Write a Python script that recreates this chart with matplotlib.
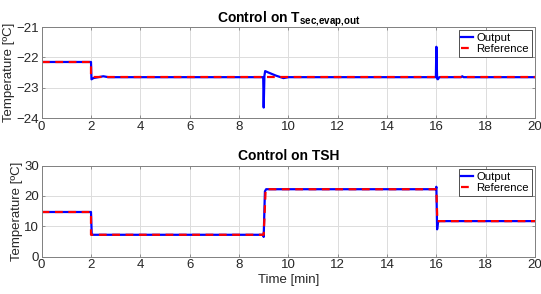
import numpy as np
import matplotlib
matplotlib.use('Agg')
import matplotlib.pyplot as plt

plt.rcParams['font.family'] = ['Liberation Sans', 'DejaVu Sans']
plt.rcParams['mathtext.fontset'] = 'custom'
plt.rcParams['mathtext.rm'] = 'Liberation Sans'
plt.rcParams['mathtext.bf'] = 'Liberation Sans:bold'

# ── Top panel: control on T_sec,evap,out ─────────────────────────────────────
t_out_top = [0, 2.0, 2.02, 2.1, 2.5, 2.7, 8.98, 9.0, 9.03, 9.06, 9.2, 9.5,
             9.8, 10.0, 15.98, 16.0, 16.03, 16.06, 16.12, 17.0, 17.05, 17.1, 20]
y_out_top = [-22.15, -22.15, -22.72, -22.68, -22.62, -22.65, -22.65, -23.65,
             -22.6, -22.45, -22.5, -22.6, -22.68, -22.65, -22.65, -21.65,
             -22.7, -22.72, -22.65, -22.65, -22.62, -22.65, -22.65]
t_ref_top = [0, 2.0, 2.0, 20]
y_ref_top = [-22.15, -22.15, -22.65, -22.65]

# ── Bottom panel: control on TSH ─────────────────────────────────────────────
t_out_bot = [0, 2.0, 2.03, 8.98, 9.0, 9.05, 9.1, 15.98, 16.0, 16.03, 16.06,
             16.1, 20]
y_out_bot = [14.7, 14.7, 7.2, 7.2, 6.5, 21.5, 22.2, 22.2, 23.0, 9.0, 11.2,
             11.7, 11.7]
t_ref_bot = [0, 2.0, 2.0, 9.0, 9.08, 16.0, 16.04, 20]
y_ref_bot = [14.7, 14.7, 7.2, 7.2, 22.2, 22.2, 11.7, 11.7]

AX_COL = '#808080'
TXT_COL = '#262626'


def style_axes(ax, ylim, yticks):
    ax.set_xlim(0, 20)
    ax.set_ylim(*ylim)
    ax.set_xticks(np.arange(0, 21, 2))
    ax.set_yticks(yticks)
    ax.grid(True, color='#dcdcdc', linewidth=0.7)
    ax.set_axisbelow(True)
    for s in ax.spines.values():
        s.set_color(AX_COL)
        s.set_linewidth(0.7)
    ax.tick_params(labelsize=9.5, colors=TXT_COL, length=2, width=0.6,
                   direction='in', pad=2)
    ax.tick_params(top=True, right=True, color=AX_COL)
    ax.set_ylabel('Temperature [ºC]', fontsize=9.5, color=TXT_COL, labelpad=1)


def add_legend(ax):
    leg = ax.legend(loc='upper right', fontsize=8.2, handlelength=1.0,
                    handletextpad=0.3, borderpad=0.25, labelspacing=0.1,
                    fancybox=False, framealpha=1, borderaxespad=0.3)
    leg.get_frame().set_edgecolor('#333333')
    leg.get_frame().set_linewidth(0.6)


fig = plt.figure(figsize=(5.41, 2.94), dpi=100)
ax1 = fig.add_axes([0.077, 0.598, 0.912, 0.310])
ax2 = fig.add_axes([0.077, 0.127, 0.912, 0.310])

ax1.plot(t_out_top, y_out_top, color='#0000ff', lw=1.6, label='Output')
ax1.plot(t_ref_top, y_ref_top, color='#ff0000', lw=1.6, ls=(0, (3.5, 2.5)),
         label='Reference')
style_axes(ax1, (-24, -21), [-24, -23, -22, -21])
ax1.set_title(r'Control on T$_{\mathbf{sec{,}evap{,}out}}$', fontsize=10,
              fontweight='bold', pad=3)
add_legend(ax1)

ax2.plot(t_out_bot, y_out_bot, color='#0000ff', lw=1.6, label='Output')
ax2.plot(t_ref_bot, y_ref_bot, color='#ff0000', lw=1.6, ls=(0, (3.5, 2.5)),
         label='Reference')
style_axes(ax2, (0, 30), [0, 10, 20, 30])
ax2.set_title('Control on TSH', fontsize=10, fontweight='bold', pad=4)
ax2.set_xlabel('Time [min]', fontsize=9.5, color=TXT_COL, labelpad=2)
add_legend(ax2)

fig.savefig('out.png', dpi=100)
